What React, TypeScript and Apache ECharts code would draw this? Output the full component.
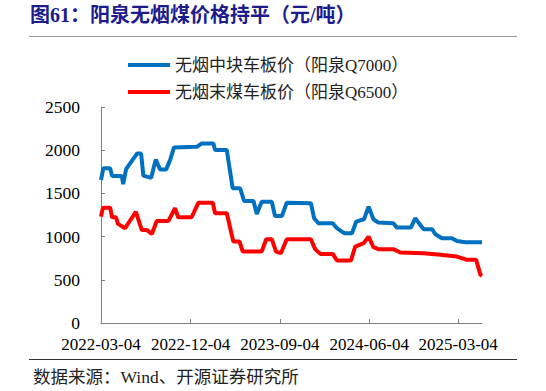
import React, { useEffect, useRef } from "react";
import * as echarts from "echarts";

const tickLabels = ["2022-03-04", "2022-12-04", "2023-09-04", "2024-06-04", "2025-03-04"];
const yTicks = [0, 500, 1000, 1500, 2000, 2500];

const seriesNames = ["无烟中块车板价（阳泉Q7000）", "无烟末煤车板价（阳泉Q6500）"];

const q7000Dates = [
  "2022-03-04", "2022-03-11", "2022-04-01", "2022-04-07", "2022-05-07", "2022-05-11", "2022-05-20",
  "2022-06-16", "2022-06-23", "2022-07-05", "2022-07-12", "2022-08-05", "2022-08-19", "2022-09-01",
  "2022-09-20", "2022-10-02", "2022-10-14", "2022-12-23", "2023-01-07", "2023-02-12", "2023-02-17",
  "2023-03-25", "2023-04-12", "2023-05-05", "2023-05-17", "2023-06-15", "2023-06-25", "2023-07-10",
  "2023-08-10", "2023-08-20", "2023-09-10", "2023-09-25", "2023-12-08", "2023-12-18", "2023-12-31",
  "2024-02-13", "2024-02-26", "2024-03-12", "2024-03-20", "2024-04-12", "2024-04-25", "2024-05-19",
  "2024-06-02", "2024-06-17", "2024-07-02", "2024-08-17", "2024-08-28", "2024-10-10", "2024-10-23",
  "2024-11-18", "2024-12-14", "2024-12-24", "2025-01-13", "2025-02-13", "2025-02-28", "2025-03-26",
  "2025-05-16",
];
const q7000Values = [
  1655, 1790, 1790, 1700, 1700, 1608, 1780,
  1925, 1963, 1963, 1705, 1680, 1893, 1778,
  1778, 1886, 2032, 2039, 2078, 2078, 2001,
  2001, 1559, 1559, 1412, 1412, 1262, 1404,
  1404, 1239, 1239, 1393, 1386, 1212, 1155,
  1155, 1097, 1058, 1039, 1039, 1173, 1201,
  1347, 1201, 1162, 1155, 1104, 1104, 1212,
  1085, 1085, 1028, 981, 981, 950, 935,
  935,
];

const q6500Dates = [
  "2022-03-04", "2022-03-10", "2022-04-01", "2022-04-07", "2022-04-19", "2022-04-25", "2022-05-17",
  "2022-06-16", "2022-06-19", "2022-07-07", "2022-07-22", "2022-08-07", "2022-08-22", "2022-09-27",
  "2022-10-17", "2022-10-27", "2022-12-07", "2022-12-28", "2023-02-10", "2023-02-17", "2023-03-25",
  "2023-04-14", "2023-05-03", "2023-05-13", "2023-07-10", "2023-07-24", "2023-08-10", "2023-08-23",
  "2023-09-07", "2023-09-25", "2023-12-08", "2023-12-21", "2024-01-06", "2024-02-13", "2024-02-26",
  "2024-04-09", "2024-04-22", "2024-05-18", "2024-06-02", "2024-06-17", "2024-07-02", "2024-08-17",
  "2024-09-07", "2024-11-18", "2025-01-08", "2025-02-28", "2025-03-31", "2025-04-28", "2025-05-11",
  "2025-05-16",
];
const q6500Values = [
  1231, 1335, 1335, 1224, 1224, 1147, 1097,
  1270, 1285, 1077, 1077, 1031, 1181, 1181,
  1328, 1224, 1224, 1393, 1393, 1270, 1270,
  942, 942, 827, 827, 970, 970, 827,
  808, 970, 970, 855, 800, 800, 723,
  723, 885, 924, 1000, 877, 855, 855,
  816, 808, 789, 769, 731, 731, 560,
  546,
];

const DAY = 86400000;
const ts = (s: string) => {
  const [y, m, d] = s.split("-").map(Number);
  return Date.UTC(y, m - 1, d) / DAY;
};
const pad = (n: number) => (n < 10 ? "0" + n : "" + n);
const fmt = (v: number) => {
  const d = new Date(Math.round(v) * DAY);
  return d.getUTCFullYear() + "-" + pad(d.getUTCMonth() + 1) + "-" + pad(d.getUTCDate());
};

const FONT = "Liberation Serif, Noto Sans CJK SC, serif";
const NUM_FONT = "Liberation Serif";

export default function App() {
  const ref = useRef<HTMLDivElement>(null);
  useEffect(() => {
    if (!ref.current) return;
    const chart = echarts.init(ref.current, null, { renderer: "svg" });
    const tickTs = tickLabels.map(ts);
    chart.setOption({
      animation: false,
      backgroundColor: "#ffffff",
      textStyle: { fontFamily: FONT },
      grid: { left: 101, right: 64, top: 107, bottom: 68, containLabel: false },
      legend: {
        orient: "vertical",
        left: 128,
        top: 56,
        padding: 0,
        itemWidth: 42,
        itemHeight: 4,
        itemGap: 9,
        icon: "rect",
        textStyle: { fontFamily: FONT, fontSize: 17, color: "#222", lineHeight: 18 },
        data: seriesNames,
      },
      xAxis: {
        type: "value",
        min: ts(tickLabels[0]),
        max: ts(q7000Dates[q7000Dates.length - 1]),
        axisLine: { show: true, lineStyle: { color: "#808080", width: 1 } },
        axisTick: { show: true, inside: true, length: 4, lineStyle: { color: "#808080" }, customValues: tickTs },
        axisLabel: {
          customValues: tickTs,
          formatter: (v: number) => fmt(v),
          fontFamily: NUM_FONT,
          fontSize: 17,
          color: "#000",
          margin: 13,
        },
        splitLine: { show: false },
      },
      yAxis: {
        type: "value",
        min: yTicks[0],
        max: yTicks[yTicks.length - 1],
        interval: 500,
        axisLine: { show: true, lineStyle: { color: "#808080", width: 1 } },
        axisTick: { show: true, inside: true, length: 4, lineStyle: { color: "#808080" } },
        axisLabel: {
          formatter: (v: number) => String(v),
          fontFamily: NUM_FONT,
          fontSize: 17.5,
          color: "#000",
          margin: 21,
        },
        splitLine: { show: false },
      },
      series: [
        {
          name: seriesNames[0],
          type: "line",
          data: q7000Dates.map((d, i) => [ts(d), q7000Values[i]]),
          showSymbol: false,
          symbol: "none",
          lineStyle: { color: "#0070C0", width: 4 },
          itemStyle: { color: "#0070C0" },
        },
        {
          name: seriesNames[1],
          type: "line",
          data: q6500Dates.map((d, i) => [ts(d), q6500Values[i]]),
          showSymbol: false,
          symbol: "none",
          lineStyle: { color: "#FF0000", width: 4 },
          itemStyle: { color: "#FF0000" },
        },
      ],
      graphic: [
        {
          type: "text",
          left: 30,
          top: 5,
          style: {
            text: "图61：阳泉无烟煤价格持平（元/吨）",
            fontFamily: FONT,
            fontSize: 20,
            fontWeight: "bold",
            fill: "#1c1c8c",
          },
        },
        {
          type: "line",
          shape: { x1: 29, y1: 36.5, x2: 517, y2: 36.5 },
          style: { stroke: "#9a9a9a", lineWidth: 1 },
        },
        {
          type: "line",
          shape: { x1: 29, y1: 359.5, x2: 517, y2: 359.5 },
          style: { stroke: "#333", lineWidth: 1 },
        },
        {
          type: "text",
          left: 33,
          top: 368,
          style: {
            text: "数据来源：Wind、开源证券研究所",
            fontFamily: FONT,
            fontSize: 17.5,
            fill: "#222",
          },
        },
      ],
    });
    return () => chart.dispose();
  }, []);
  return (
    <div
      ref={ref}
      style={{ position: "fixed", left: 0, top: 0, width: 546, height: 391, background: "#fff" }}
    />
  );
}
